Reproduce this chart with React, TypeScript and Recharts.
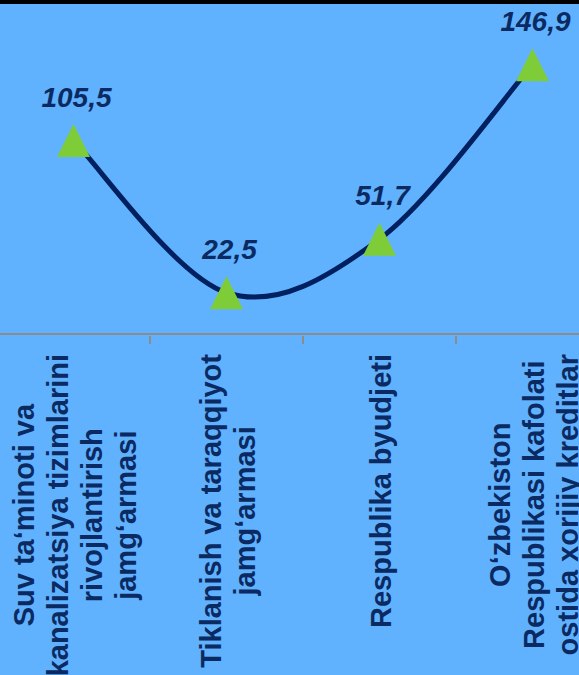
import React from 'react';
import { LineChart, Line, XAxis, YAxis, LabelList } from 'recharts';

// category labels, one entry per line of text
const categories: string[][] = [
  ['Suv ta‘minoti va', 'kanalizatsiya tizimlarini', 'rivojlantirish', 'jamg‘armasi'],
  ['Tiklanish va taraqqiyot', 'jamg‘armasi'],
  ['Respublika byudjeti'],
  ['O‘zbekiston', 'Respublikasi kafolati', 'ostida xorijiy kreditlar'],
];
const values = [105.5, 22.5, 51.7, 146.9];
const yDomain: [number, number] = [0, 180];

const data = categories.map((lines, i) => ({ name: lines.join(' '), value: values[i] }));

const NAVY = '#002060';
const TEXT = '#0b2a62';
const GREEN = '#7ecd38';
const AXIS = '#8c8c8c';
const FONT = "'Liberation Sans', Arial, sans-serif";
const CAT_FONT_SIZE = 29;

// Excel-like smoothed line (Catmull-Rom through the points)
const excelSmooth = (context: any) => {
  let pts: number[][] = [];
  return {
    areaStart() {},
    areaEnd() {},
    lineStart() {
      pts = [];
    },
    point(x: number, y: number) {
      pts.push([+x, +y]);
    },
    lineEnd() {
      if (!pts.length) return;
      context.moveTo(pts[0][0], pts[0][1]);
      for (let i = 0; i < pts.length - 1; i++) {
        const p0 = pts[Math.max(i - 1, 0)];
        const p1 = pts[i];
        const p2 = pts[i + 1];
        const p3 = pts[Math.min(i + 2, pts.length - 1)];
        context.bezierCurveTo(
          p1[0] + (p2[0] - p0[0]) / 6,
          p1[1] + (p2[1] - p0[1]) / 6,
          p2[0] - (p3[0] - p1[0]) / 6,
          p2[1] - (p3[1] - p1[1]) / 6,
          p2[0],
          p2[1]
        );
      }
    },
  };
};

let ctx: CanvasRenderingContext2D | null = null;
const measure = (text: string) => {
  if (!ctx) ctx = document.createElement('canvas').getContext('2d');
  if (!ctx) return text.length * CAT_FONT_SIZE * 0.55;
  ctx.font = `bold ${CAT_FONT_SIZE}px ${FONT}`;
  return ctx.measureText(text).width;
};

const CategoryTick = (props: any) => {
  const { x, y, payload, index } = props;
  const lines = categories[payload?.index ?? index] || [];
  const half = payload?.offset || 76.5;
  const maxW = Math.max(...lines.map(measure));
  const cy = y + 18 + maxW / 2;
  return (
    <g>
      <line x1={x - half} x2={x - half} y1={y} y2={y + 8} stroke={AXIS} strokeWidth={2} />
      {lines.map((t, j) => {
        const lx = x + 2 + (j - (lines.length - 1) / 2) * 34;
        return (
          <text
            key={j}
            x={lx}
            y={cy}
            transform={`rotate(-90 ${lx} ${cy})`}
            textAnchor="middle"
            dominantBaseline="central"
            fill={TEXT}
            fontFamily={FONT}
            fontWeight="bold"
            fontSize={CAT_FONT_SIZE}
          >
            {t}
          </text>
        );
      })}
    </g>
  );
};

const renderTriangle = (props: any) => {
  const { cx, cy, index } = props;
  if (cx == null || cy == null) return <g key={`dot-${index}`} />;
  const h = 16.5;
  return (
    <polygon
      key={`dot-${index}`}
      points={`${cx},${cy - h} ${cx - h},${cy + h} ${cx + h},${cy + h}`}
      fill={GREEN}
    />
  );
};

const renderValueLabel = (props: any) => {
  const { x, y, value } = props;
  return (
    <text
      x={x + 3}
      y={y - 34}
      textAnchor="middle"
      fill={TEXT}
      fontFamily={FONT}
      fontWeight="bold"
      fontStyle="italic"
      fontSize={28}
    >
      {Number(value).toFixed(1).replace('.', ',')}
    </text>
  );
};

export default function App() {
  return (
    <div
      style={{
        position: 'fixed',
        left: 0,
        top: 0,
        width: 579,
        height: 675,
        overflow: 'hidden',
        background: '#60b2ff',
      }}
    >
      <div style={{ position: 'absolute', left: 0, top: 0, width: 579, height: 4, background: '#000' }} />
      <div style={{ position: 'absolute', left: -3, top: 0 }}>
        <LineChart width={612} height={675} data={data} margin={{ top: 4, right: 0, bottom: 0, left: 0 }}>
          <XAxis
            dataKey="name"
            scale="band"
            height={341}
            interval={0}
            axisLine={{ stroke: AXIS, strokeWidth: 2 }}
            tickLine={false}
            tickSize={0}
            tick={<CategoryTick />}
          />
          <YAxis hide domain={yDomain} />
          <Line
            type={excelSmooth as any}
            dataKey="value"
            stroke={NAVY}
            strokeWidth={5}
            dot={renderTriangle}
            activeDot={false}
            isAnimationActive={false}
          >
            <LabelList dataKey="value" content={renderValueLabel} />
          </Line>
        </LineChart>
      </div>
    </div>
  );
}
